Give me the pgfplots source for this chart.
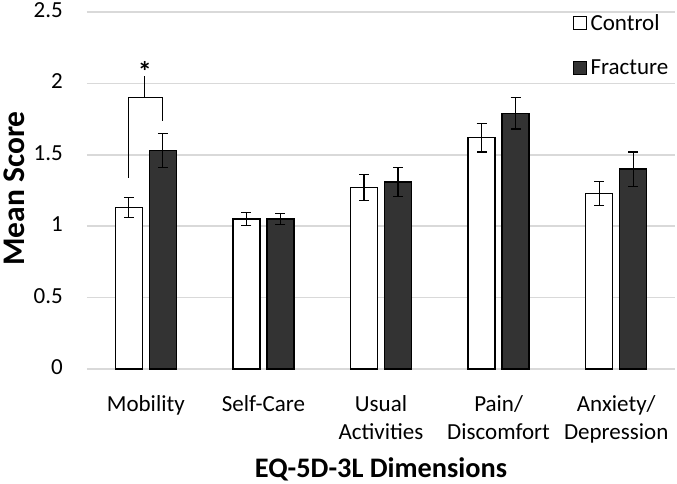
\documentclass[border=0pt]{standalone}
\usepackage{fontspec}
\setmainfont{Carlito}
\usepackage{pgfplots}
\usepackage{pgfplotstable}
\pgfplotsset{compat=1.18}
\definecolor{gridgray}{HTML}{D9D9D9}
\definecolor{darkbar}{HTML}{333333}

\pgfplotstableread{
x c cerr f ferr
0 1.13 0.070 1.53 0.120
1 1.05 0.045 1.05 0.040
2 1.27 0.090 1.31 0.100
3 1.62 0.100 1.79 0.110
4 1.23 0.085 1.40 0.120
}\data

\begin{document}
\begin{tikzpicture}
\begin{axis}[
  scale only axis, width=588pt, height=357pt,
  xmin=-0.5, xmax=4.5, ymin=0, ymax=2.5,
  ytick={0,0.5,1,1.5,2,2.5},
  xtick={0,1,2,3,4},
  xticklabels={Mobility, Self-Care, {Usual\\Activities}, {Pain/\\Discomfort}, {Anxiety/\\Depression}},
  typeset ticklabels with strut,
  /pgf/number format/assume math mode=true,
  ymajorgrids,
  major grid style={draw=gridgray, line width=1.5pt},
  axis line style={draw=none},
  tick style={draw=none},
  ybar,
  bar width=27pt,
  ticklabel style={font=\fontsize{23}{28}\selectfont},
  yticklabel style={anchor=east, inner sep=0pt, xshift=-24pt},
  xticklabel style={anchor=north, inner sep=0pt, align=center, yshift=-18pt},
  xlabel={EQ-5D-3L Dimensions},
  ylabel={Mean Score},
  xlabel style={font=\fontsize{28.3}{34}\selectfont\bfseries, at={(axis description cs:0.5,-0.3053)}, anchor=base},
  ylabel style={font=\fontsize{31.5}{36}\selectfont\bfseries, at={(axis description cs:-0.1063,0.5056)}, anchor=base, rotate=0},
  legend style={at={(axis description cs:0.995,1.0)}, anchor=north east, draw=none, fill=none, inner sep=0pt,
     font=\fontsize{23}{28}\selectfont, row sep=24pt,
     /tikz/every even column/.append style={column sep=0pt},
     nodes={inner xsep=3.5pt}},
  legend cell align=left,
  legend image code/.code={\draw[#1, line width=1pt] (0pt,-6.75pt) rectangle (13.5pt,6.75pt);},
  clip=false,
]
\addplot[fill=white, draw=black, line width=1.3pt, bar shift=-17pt,
  error bars/.cd, y dir=both, y explicit,
  error bar style={line width=1.4pt, black},
  error mark options={rotate=90, mark size=5pt, line width=1.4pt, black}]
  table[x=x, y=c, y error=cerr]{\data};
\addlegendentry{Control}
\addplot[fill=darkbar, draw=black, line width=1.3pt, bar shift=17pt,
  error bars/.cd, y dir=both, y explicit,
  error bar style={line width=1.4pt, black},
  error mark options={rotate=90, mark size=5pt, line width=1.4pt, black}]
  table[x=x, y=f, y error=ferr]{\data};
\addlegendentry{Fracture}
% significance bracket
\draw[black, line width=1.2pt]
  ([xshift=-17pt]axis cs:0,1.34) -- ([xshift=-17pt]axis cs:0,1.90)
  -- ([xshift=17pt]axis cs:0,1.90) -- ([xshift=17pt]axis cs:0,1.74);
\draw[black, line width=1.2pt] ([xshift=-1pt]axis cs:0,1.90) -- ([xshift=-1pt]axis cs:0,2.05);
\node[font=\fontsize{28}{32}\selectfont\bfseries, inner sep=0pt, anchor=center] at ([xshift=-1pt]axis cs:0,2.085) {*};
\coordinate (ll) at (rel axis cs:0,0);
\coordinate (ur) at (rel axis cs:1,1);
\end{axis}
\pgfresetboundingbox
\path[use as bounding box] ([xshift=-87pt,yshift=-115pt]ll) rectangle ([xshift=2pt,yshift=12pt]ur);
\end{tikzpicture}
\end{document}
